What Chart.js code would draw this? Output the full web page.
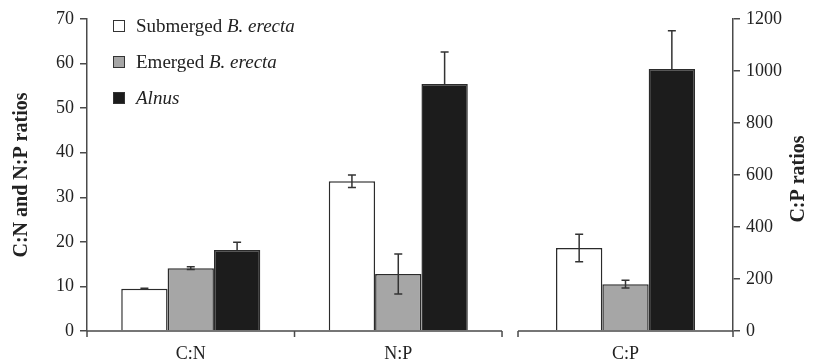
<!DOCTYPE html>
<html>
<head>
<meta charset="utf-8">
<script src="https://cdn.jsdelivr.net/npm/chart.js@4"></script>
<style>
  html, body { margin: 0; padding: 0; background: #fff; }
  #wrap { position: relative; width: 813px; height: 362px; }
  #legend { position: absolute; left: 113px; top: 8px; font: 19px "Liberation Serif", "Times New Roman", serif; color: #222; }
  #legend .row { height: 36px; display: flex; align-items: center; white-space: pre; }
  #legend .box { width: 10px; height: 10px; border: 1px solid #333; margin-right: 11px; }
</style>
</head>
<body>
<div id="wrap">
  <canvas id="chart" width="813" height="362"></canvas>
  <div id="legend"></div>
</div>
<script>
// --- data ---
const categories = ['C:N', 'N:P', 'C:P'];
const rightAxisCats = ['C:P'];          // plotted against the C:P axis
const seriesNames = [['Submerged ', 'B. erecta'], ['Emerged ', 'B. erecta'], ['', 'Alnus']];
const submerged = [9.5, 33.6, 319];
const emerged = [14.1, 12.8, 180];
const alnus = [18.2, 55.4, 1008];
const submergedErr = [0.1, 1.4, 53];
const emergedErr = [0.3, 4.5, 15];
const alnusErr = [1.7, 7.2, 147];
const leftMax = 70, leftStep = 10;
const rightMax = 1200, rightStep = 200;
const leftTitle = 'C:N and N:P ratios';
const rightTitle = 'C:P ratios';

// --- layout of the broken x axis (in category units) ---
const GAP = 0.077, LAST = 1.036;
const xMax = 2 + GAP + LAST;
const xPos = i => i < 2 ? i + 0.5 : 2 + GAP + LAST / 2;

const fills = ['#ffffff', '#a6a6a6', '#1c1c1c'];
const values = [submerged, emerged, alnus];
const errs = [submergedErr, emergedErr, alnusErr];
const FONT = '"Liberation Serif", "Times New Roman", serif';
const INK = '#222';
const LINE = '#4a4a4a';

// one dataset per series and per y axis
const datasets = [];
['y', 'y1'].forEach(axis => {
  values.forEach((vals, s) => {
    const idx = categories.map((c, i) => i).filter(i => rightAxisCats.includes(categories[i]) === (axis === 'y1'));
    datasets.push({
      label: seriesNames[s].join(''),
      yAxisID: axis,
      data: idx.map(i => ({ x: xPos(i), y: vals[i] })),
      errors: idx.map(i => errs[s][i]),
      backgroundColor: fills[s],
      borderColor: '#2b2b2b',
      borderWidth: 1.5,
      skipNull: true,
      barPercentage: 1,
      categoryPercentage: 0.67
    });
  });
});

// --- legend ---
seriesNames.forEach((n, s) => {
  const row = document.createElement('div');
  row.className = 'row';
  row.innerHTML = `<span class="box" style="background:${fills[s]}"></span><span>${n[0]}</span><i>${n[1]}</i>`;
  document.getElementById('legend').appendChild(row);
});

// --- plugins ---
const isDark = hex => parseInt(hex.slice(1, 3), 16) < 0x40;

const errorBars = {
  id: 'errorBars',
  afterDatasetsDraw(chart) {
    const ctx = chart.ctx;
    ctx.save();
    ctx.strokeStyle = '#333';
    ctx.lineWidth = 1.5;
    chart.data.datasets.forEach((ds, i) => {
      const meta = chart.getDatasetMeta(i);
      const sc = chart.scales[ds.yAxisID];
      meta.data.forEach((bar, j) => {
        const v = ds.data[j].y, e = ds.errors[j];
        const top = sc.getPixelForValue(v + e), bot = sc.getPixelForValue(v - e);
        const mid = sc.getPixelForValue(v);
        ctx.beginPath();
        ctx.moveTo(bar.x, top); ctx.lineTo(bar.x, mid);
        ctx.moveTo(bar.x - 4, top); ctx.lineTo(bar.x + 4, top);
        // lower half disappears inside dark bars
        if (!isDark(ds.backgroundColor)) {
          ctx.moveTo(bar.x, mid); ctx.lineTo(bar.x, bot);
          ctx.moveTo(bar.x - 4, bot); ctx.lineTo(bar.x + 4, bot);
        }
        ctx.stroke();
      });
    });
    ctx.restore();
  }
};

const brokenAxis = {
  id: 'brokenAxis',
  afterDraw(chart) {
    const ctx = chart.ctx, x = chart.scales.x;
    const y = chart.chartArea.bottom;
    ctx.save();
    ctx.strokeStyle = LINE;
    ctx.lineWidth = 1.5;
    ctx.beginPath();
    [[0, 2], [2 + GAP, xMax]].forEach(([a, b]) => {
      ctx.moveTo(x.getPixelForValue(a), y);
      ctx.lineTo(x.getPixelForValue(b), y);
    });
    [0, 1, 2, 2 + GAP, xMax].forEach(v => {
      const px = x.getPixelForValue(v);
      ctx.moveTo(px, y);
      ctx.lineTo(px, y + 6);
    });
    ctx.stroke();

    // right axis title reads bottom-to-top like the left one
    const ca = chart.chartArea;
    ctx.translate(chart.width - 14, (ca.top + ca.bottom) / 2 + 4);
    ctx.rotate(-Math.PI / 2);
    ctx.font = 'bold 20px ' + FONT;
    ctx.fillStyle = INK;
    ctx.textAlign = 'center';
    ctx.textBaseline = 'middle';
    ctx.fillText(rightTitle, 0, 0);
    ctx.restore();
  }
};

Chart.defaults.font.family = FONT;
Chart.defaults.font.size = 18;
Chart.defaults.color = INK;

new Chart(document.getElementById('chart'), {
  type: 'bar',
  data: { datasets },
  plugins: [errorBars, brokenAxis],
  options: {
    responsive: false,
    animation: false,
    layout: { padding: { top: 19, left: 0, right: 0, bottom: 0 } },
    plugins: { legend: { display: false }, tooltip: { enabled: false } },
    scales: {
      x: {
        type: 'linear',
        min: 0,
        max: xMax,
        offset: false,
        grid: { display: false, drawTicks: false },
        border: { display: false },
        afterBuildTicks: sc => { sc.ticks = categories.map((c, i) => ({ value: xPos(i) })); },
        afterFit: sc => { sc.height = 31; },
        ticks: { autoSkip: false, maxRotation: 0, padding: 12, callback: (v, i) => categories[i] }
      },
      y: {
        position: 'left',
        min: 0,
        max: leftMax,
        grid: { drawOnChartArea: false, drawTicks: true, tickLength: 7, color: LINE, lineWidth: 1.5 },
        border: { display: true, color: LINE, width: 1.5 },
        ticks: { stepSize: leftStep, padding: 6 },
        title: { display: true, text: leftTitle, font: { size: 20, weight: 'bold' }, padding: { top: 10 } },
        afterFit: sc => { sc.width = 87; }
      },
      y1: {
        position: 'right',
        min: 0,
        max: rightMax,
        grid: { drawOnChartArea: false, drawTicks: true, tickLength: 7, color: LINE, lineWidth: 1.5 },
        border: { display: true, color: LINE, width: 1.5 },
        ticks: { stepSize: rightStep, padding: 6, callback: v => String(v) },
        afterFit: sc => { sc.width = 80; }
      }
    }
  }
});
</script>
</body>
</html>
